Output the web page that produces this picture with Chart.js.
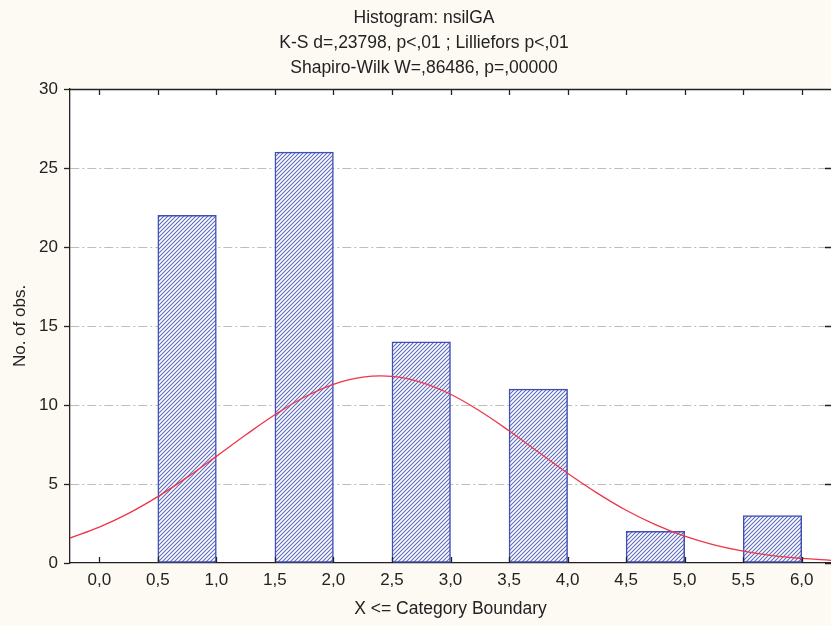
<!DOCTYPE html>
<html>
<head>
<meta charset="utf-8">
<script src="https://cdn.jsdelivr.net/npm/chart.js@4.4.1/dist/chart.umd.min.js"></script>
<style>
    html, body { margin: 0; padding: 0; background: #fdfaf3; }
    #wrap { width: 831px; height: 626px; }
</style>
</head>
<body>
<div id="wrap"><canvas id="histo" width="831" height="626"></canvas></div>
<script>
// ============================================================================
// HISTOGRAM nsilGA
// ============================================================================

const titleLines = [
    "Histogram: nsilGA",
    "K-S d=,23798, p<,01 ; Lilliefors p<,01",
    "Shapiro-Wilk W=,86486, p=,00000"
];

// bins (centre of each 0,5-wide class) and counts
const binCenters = [0.75, 1.75, 2.75, 3.75, 4.75, 5.75];
const binCounts = [22, 26, 14, 11, 2, 3];

// expected normal curve
const curveX = [-0.25, 0, 0.25, 0.5, 0.75, 1, 1.25, 1.5, 1.75, 2, 2.25, 2.5, 2.75, 3, 3.25,
                3.5, 3.75, 4, 4.25, 4.5, 4.75, 5, 5.25, 5.5, 5.75, 6, 6.25];
const curveY = [1.58, 2.27, 3.14, 4.2, 5.42, 6.75, 8.1, 9.38, 10.49, 11.31, 11.76, 11.81, 11.43, 10.68, 9.62,
                8.37, 7.02, 5.68, 4.44, 3.34, 2.43, 1.7, 1.15, 0.75, 0.47, 0.29, 0.17];

const xTicks = [0, 0.5, 1, 1.5, 2, 2.5, 3, 3.5, 4, 4.5, 5, 5.5, 6];
const yTicks = [0, 5, 10, 15, 20, 25, 30];

const FONT = "'Liberation Sans', Arial, sans-serif";
const INK = "#222";

function makeHatch() {
    const c = document.createElement("canvas");
    c.width = 4; c.height = 4;
    const g = c.getContext("2d");
    g.fillStyle = "#ffffff";
    g.fillRect(0, 0, 4, 4);
    g.strokeStyle = "#5d6bbc";
    g.lineWidth = 1.1;
    g.beginPath();
    g.moveTo(-1, 5); g.lineTo(5, -1);
    g.moveTo(-1, 1); g.lineTo(1, -1);
    g.moveTo(3, 5); g.lineTo(5, 3);
    g.stroke();
    return g.createPattern(c, "repeat");
}

const framePlugin = {
    id: "frame",
    beforeDraw(chart) {
        const { ctx, chartArea: a } = chart;
        ctx.save();
        ctx.fillStyle = "#fdfaf3";
        ctx.fillRect(0, 0, chart.width, chart.height);
        ctx.fillStyle = "#ffffff";
        ctx.fillRect(a.left, a.top, a.right - a.left, a.bottom - a.top);
        ctx.restore();
    },
    afterDraw(chart) {
        const { ctx, chartArea: a } = chart;
        const xs = chart.scales.x, ys = chart.scales.y;
        ctx.save();
        ctx.strokeStyle = INK;
        ctx.lineWidth = 1.3;
        ctx.beginPath();
        ctx.moveTo(a.left, a.top + 0.5);
        ctx.lineTo(a.right, a.top + 0.5);
        // tick marks pointing inwards on top, bottom and right
        xTicks.forEach(v => {
            const px = Math.round(xs.getPixelForValue(v)) + 0.5;
            ctx.moveTo(px, a.top); ctx.lineTo(px, a.top + 6);
            ctx.moveTo(px, a.bottom); ctx.lineTo(px, a.bottom - 6);
        });
        yTicks.forEach(v => {
            const py = Math.round(ys.getPixelForValue(v)) + 0.5;
            ctx.moveTo(a.right, py); ctx.lineTo(a.right - 6, py);
        });
        ctx.stroke();

        // title
        ctx.fillStyle = INK;
        ctx.font = "17.5px " + FONT;
        ctx.textAlign = "center";
        ctx.textBaseline = "middle";
        titleLines.forEach((t, i) => ctx.fillText(t, 424, 18 + i * 25));
        ctx.restore();
    }
};

const ctx = document.getElementById("histo").getContext("2d");

new Chart(ctx, {
    type: "bar",
    data: {
        datasets: [
            {
                type: "line",
                label: "Normal",
                data: curveX.map((x, i) => ({ x: x, y: curveY[i] })),
                borderColor: "#ee3549",
                borderWidth: 1.3,
                pointRadius: 0,
                tension: 0.4,
                fill: false,
                order: 0
            },
            {
                type: "bar",
                label: "nsilGA",
                data: binCenters.map((x, i) => ({ x: x, y: binCounts[i] })),
                backgroundColor: makeHatch(),
                borderColor: "#4050b2",
                borderWidth: 1.5,
                borderSkipped: false,
                barPercentage: 1.0,
                categoryPercentage: 1.0,
                order: 1
            }
        ]
    },
    options: {
        responsive: false,
        animation: false,
        devicePixelRatio: 1,
        layout: { padding: { top: 89, left: 0, right: 0, bottom: 0 } },
        plugins: {
            legend: { display: false },
            title: { display: false },
            tooltip: { enabled: false }
        },
        scales: {
            x: {
                type: "linear",
                min: -0.25,
                max: 6.25,
                offset: false,
                afterBuildTicks: s => { s.ticks = xTicks.map(v => ({ value: v })); },
                afterFit: s => { s.height = 63; },
                grid: { display: false, drawTicks: false },
                border: { display: true, color: INK, width: 1.3 },
                ticks: {
                    padding: 7,
                    color: INK,
                    font: { family: FONT, size: 17 },
                    maxRotation: 0,
                    autoSkip: false,
                    callback: v => v.toFixed(1).replace(".", ",")
                },
                title: {
                    display: true,
                    text: "X <= Category Boundary",
                    color: INK,
                    font: { family: FONT, size: 17.5 },
                    padding: { top: 0, bottom: 6 }
                }
            },
            y: {
                min: 0,
                max: 30,
                afterBuildTicks: s => { s.ticks = yTicks.map(v => ({ value: v })); },
                afterFit: s => { s.width = 70; },
                grid: {
                    color: c => (c.tick && (c.tick.value === 0 || c.tick.value === 30)) ? "rgba(0,0,0,0)" : "#bdbdbd",
                    lineWidth: 1,
                    drawTicks: true,
                    tickLength: 6,
                    tickColor: INK,
                    tickWidth: 1.3,
                    tickBorderDash: []
                },
                border: { display: true, color: INK, width: 1.3, dash: [9, 3, 2, 3] },
                ticks: {
                    padding: 6,
                    color: INK,
                    font: { family: FONT, size: 17 }
                },
                title: {
                    display: true,
                    text: "No. of obs.",
                    color: INK,
                    font: { family: FONT, size: 17 },
                    padding: { top: 10, bottom: 0 }
                }
            }
        }
    },
    plugins: [framePlugin]
});
</script>
</body>
</html>
